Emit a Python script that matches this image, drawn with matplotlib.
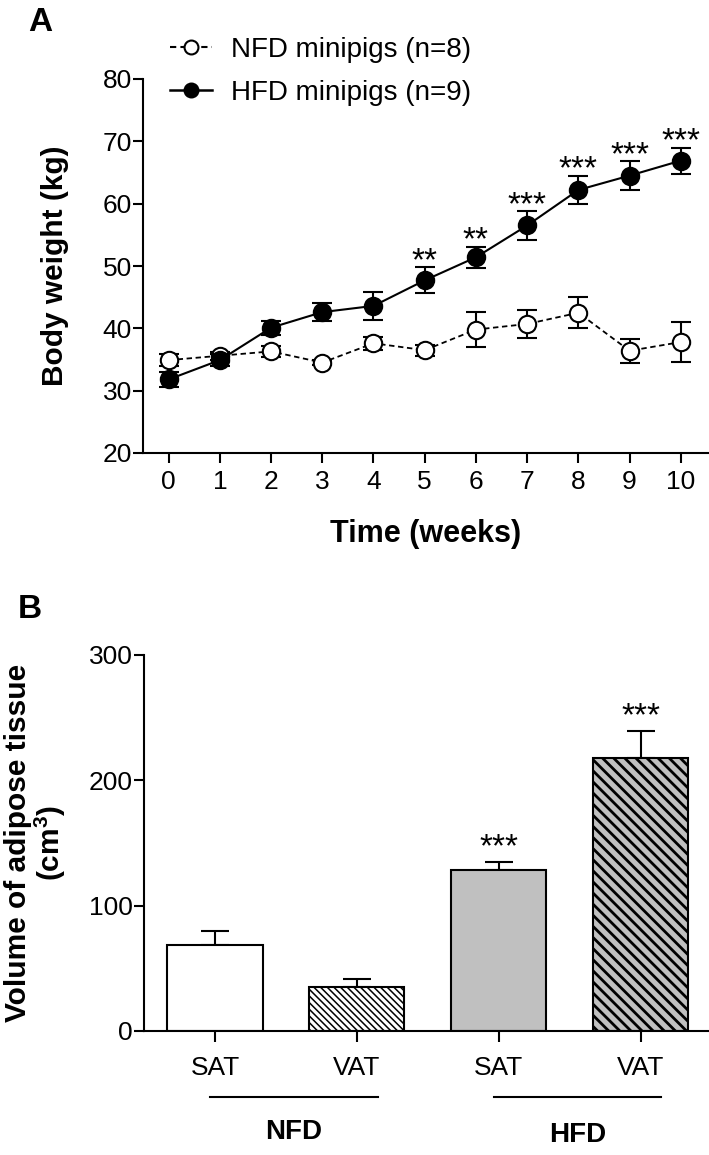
import numpy as np
import matplotlib
matplotlib.use('Agg')
import matplotlib.pyplot as plt
from matplotlib.lines import Line2D

plt.rcParams['font.family'] = ['Liberation Sans', 'DejaVu Sans']
plt.rcParams['hatch.linewidth'] = 1.4

# panel A: body weight over time
weeks = [0, 1, 2, 3, 4, 5, 6, 7, 8, 9, 10]
nfd_mean = [34.9, 35.6, 36.3, 34.5, 37.6, 36.5, 39.8, 40.7, 42.5, 36.4, 37.8]
nfd_sem = [1.0, 0.6, 0.9, 0.4, 1.0, 0.9, 2.8, 2.2, 2.5, 1.9, 3.2]
hfd_mean = [31.8, 34.9, 40.1, 42.6, 43.6, 47.7, 51.4, 56.5, 62.2, 64.5, 66.9]
hfd_sem = [1.2, 1.0, 1.1, 1.4, 2.3, 2.1, 1.7, 2.3, 2.3, 2.3, 2.1]
stars_a = ['', '', '', '', '', '**', '**', '***', '***', '***', '***']

# panel B: adipose tissue volume
tissue = ['SAT', 'VAT', 'SAT', 'VAT']
vol_mean = [68.5, 35.2, 128.5, 217.5]
vol_sem = [11.0, 6.0, 6.7, 21.7]
stars_b = ['', '', '***', '***']
groups = ['NFD', 'HFD']

fig = plt.figure(figsize=(7.09, 11.55), dpi=100)

# ---------------- A ----------------
axA = fig.add_axes([143/709, 1-453/1155, 566/709, 374/1155])
axA.errorbar(weeks, nfd_mean, yerr=nfd_sem, fmt='o', ls='--', color='black',
             mfc='white', mec='black', ms=12.5, mew=1.5, lw=1.3,
             elinewidth=1.5, capsize=7, capthick=1.5, dashes=(3, 2), zorder=3)
axA.errorbar(weeks, hfd_mean, yerr=hfd_sem, fmt='o', ls='-', color='black',
             mfc='black', ms=12.5, mew=1.5, lw=1.5,
             elinewidth=1.5, capsize=7, capthick=1.5, zorder=4)
for x, m, e, s in zip(weeks, hfd_mean, hfd_sem, stars_a):
    if s:
        axA.annotate(s, (x, m + e), xytext=(0, -2), textcoords='offset points',
                     ha='center', va='baseline', fontsize=24)

axA.set_xlim(-0.5, 10.55)
axA.set_ylim(20, 80)
axA.set_xticks(weeks)
axA.set_yticks([20, 30, 40, 50, 60, 70, 80])
axA.spines['top'].set_visible(False)
axA.spines['right'].set_visible(False)
for sp in ['left', 'bottom']:
    axA.spines[sp].set_linewidth(1.5)
axA.tick_params(axis='both', labelsize=19, width=1.5, length=7)
axA.tick_params(axis='x', pad=5)
axA.tick_params(axis='y', pad=1)
axA.set_xlabel('Time (weeks)', fontsize=22, fontweight='bold', labelpad=18)
axA.set_ylabel('Body weight (kg)', fontsize=21.5, fontweight='bold')
axA.yaxis.set_label_coords(-0.13, 0.5)

h_nfd = Line2D([], [], ls='--', dashes=(3, 2), color='black', lw=1.5, marker='o',
               mfc='white', mec='black', ms=10, mew=1.5)
h_hfd = Line2D([], [], ls='-', color='black', lw=1.8, marker='o',
               mfc='black', mec='black', ms=10, mew=1.5)
fig.legend(handles=[h_nfd, h_hfd], labels=['NFD minipigs (n=8)', 'HFD minipigs (n=9)'],
           loc='upper left', bbox_to_anchor=(170/709, 1-37/1155),
           frameon=False, fontsize=20, handlelength=1.5, handletextpad=0.7,
           labelspacing=0.62, borderpad=0, borderaxespad=0)

fig.text(28/709, 1-7/1155, 'A', fontsize=24, fontweight='bold', va='top', ha='left')

# ---------------- B ----------------
axB = fig.add_axes([144/709, 1-1031/1155, 565/709, 376/1155])
xpos = np.arange(len(tissue))
faces = ['white', 'white', '#c0c0c0', '#c0c0c0']
hatches = [None, '\\\\\\\\\\', None, '\\\\\\']
hatch_lw = [1.0, 1.1, 1.0, 2.0]
bars = axB.bar(xpos, vol_mean, width=0.67, color=faces, edgecolor='black', linewidth=1.5,
               zorder=2)
for b, h, hw in zip(bars, hatches, hatch_lw):
    if h:
        b.set_hatch(h)
        if hasattr(b, 'set_hatch_linewidth'):
            b.set_hatch_linewidth(hw)
axB.errorbar(xpos, vol_mean, yerr=[np.zeros(4), vol_sem], fmt='none', ecolor='black',
             elinewidth=1.5, capsize=10, capthick=1.5, zorder=1)
for x, m, e, s in zip(xpos, vol_mean, vol_sem, stars_b):
    if s:
        axB.annotate(s, (x, m + e), xytext=(0, 4), textcoords='offset points',
                     ha='center', va='baseline', fontsize=24)

axB.set_xlim(-0.5, 3.48)
axB.set_ylim(0, 300)
axB.set_xticks(xpos)
axB.set_xticklabels(tissue)
axB.set_yticks([0, 100, 200, 300])
axB.spines['top'].set_visible(False)
axB.spines['right'].set_visible(False)
for sp in ['left', 'bottom']:
    axB.spines[sp].set_linewidth(1.5)
axB.tick_params(axis='both', labelsize=19, width=1.5, length=7)
axB.tick_params(axis='x', length=8, pad=10)
axB.tick_params(axis='y', pad=1)
axB.set_ylabel('Volume of adipose tissue\n(cm$^\\mathregular{3}$)', fontsize=21.5,
               fontweight='bold', linespacing=1.0)
axB.yaxis.set_label_coords(-0.135, 0.5)

# group lines under the tick labels
tr = axB.get_xaxis_transform()
for (x0, x1), g, gy in zip([(-0.035, 1.145), (1.965, 3.14)], groups, [-0.268, -0.276]):
    axB.plot([x0, x1], [-0.175, -0.175], color='black', lw=1.5, transform=tr, clip_on=False)
    axB.text((x0 + x1) / 2, gy, g, transform=tr, ha='center', va='center',
             fontsize=20, fontweight='bold')

fig.text(18/709, 1-594/1155, 'B', fontsize=24, fontweight='bold', va='top', ha='left')

fig.savefig('out.png', dpi=100)
